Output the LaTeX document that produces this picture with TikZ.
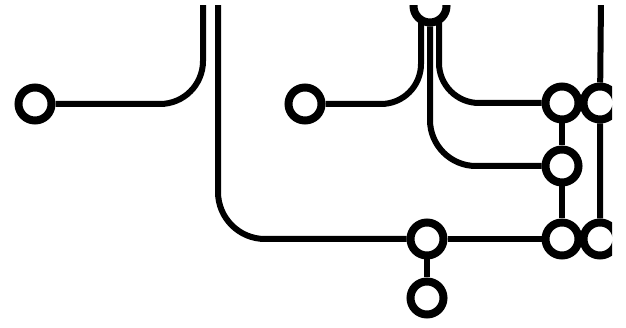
\documentclass[tikz,border=0pt]{standalone}
\usetikzlibrary{backgrounds}
\begin{document}
\begin{tikzpicture}[x=1pt,y=-1pt,
  stop/.style={circle,draw,fill=white,line width=8pt,minimum size=33pt,inner sep=0pt},
  track/.style={line width=6pt}]
\useasboundingbox (0,0) rectangle (626,328);
\clip (0,6) rectangle (612,328);
% stations
\node[stop] (hub) at (430,6) {};
\node[stop] (west) at (35,104) {};
\node[stop] (mid) at (305,104) {};
\node[stop] (eastA) at (562,103) {};
\node[stop] (farA) at (600,103) {};
\node[stop] (eastB) at (562,166) {};
\node[stop] (south) at (427,239) {};
\node[stop] (eastC) at (562,239) {};
\node[stop] (farC) at (600,239) {};
\node[stop] (foot) at (427,298) {};
% loose ends at the top edge
\coordinate (topA) at (203,0);
\coordinate (topB) at (218,0);
\coordinate (topC) at (601,0);
% tracks
\begin{pgfonlayer}{background}
\clip (0,6) rectangle (612,328);
\draw[track,rounded corners=43pt] (topA) |- (west);
\draw[track,rounded corners=47pt] (topB) |- (south);
\draw[track,rounded corners=40pt] ([xshift=-9pt]hub.center) |- (mid);
\draw[track,rounded corners=40pt] ([xshift=9pt]hub.center) |- (eastA);
\draw[track,rounded corners=46pt] (hub) |- (eastB);
\draw[track] (eastA) -- (eastB) -- (eastC);
\draw[track] (eastA) -- (farA);
\draw[track] (south) -- (eastC) -- (farC);
\draw[track] (south) -- (foot);
\draw[track] (topC) -- (farA) -- (farC);
\end{pgfonlayer}
\end{tikzpicture}
\end{document}
